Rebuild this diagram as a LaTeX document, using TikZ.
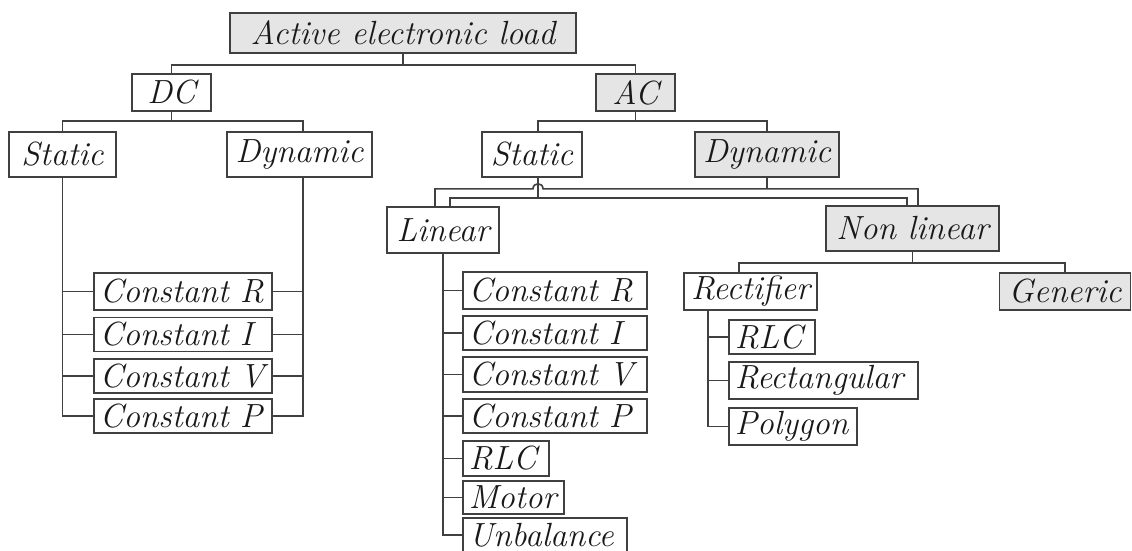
\documentclass[tikz,border=0pt]{standalone}
\usepackage{fontspec}
\begin{document}
\begin{tikzpicture}[x=1pt,y=-1pt,
  line width=1.6pt, draw=black!75,
  every node/.style={font=\fontsize{33.5}{40}\selectfont\itshape, text=black!90},
  cbox/.style={draw=black!75, line width=1.6pt, inner sep=0pt, align=center},
  gfill/.style={fill=black!10},
  leaf/.style={draw=black!75, line width=1.6pt, inner ysep=0pt, inner xsep=6pt, align=left, anchor=west}
]
\useasboundingbox (0,0) rectangle (1132,550);
\clip (0,0) rectangle (1132,550);
% level 0
\node[cbox,gfill,minimum width=346,minimum height=40] (Act) at (403,33) {Active electronic load};
% level 1
\node[cbox,minimum width=79,minimum height=37] (DC) at (171.5,92.5) {DC};
\node[cbox,gfill,minimum width=79,minimum height=37] (AC) at (635.5,92.5) {AC};
% level 2
\node[cbox,minimum width=107,minimum height=45] (S1) at (62.5,154.5) {Static};
\node[cbox,minimum width=145,minimum height=45] (D1) at (299.5,154.5) {Dynamic};
\node[cbox,minimum width=100,minimum height=45] (S2) at (532,154.5) {Static};
\node[cbox,gfill,minimum width=144,minimum height=45] (D2) at (767,154.5) {Dynamic};
% level 3
\node[cbox,minimum width=112,minimum height=46] (Lin) at (443,230) {Linear};
\node[cbox,gfill,minimum width=173,minimum height=45] (NL) at (912.5,228.5) {Non linear};
\node[cbox,minimum width=133,minimum height=37] (Rect) at (750.5,291.5) {Rectifier};
\node[cbox,gfill,minimum width=131,minimum height=37] (Gen) at (1065,291.5) {Generic};
% DC leaves
\node[leaf,text width=166,minimum height=37] (cR1) at (93,291.5) {Constant R};
\node[leaf,text width=166,minimum height=34] (cI1) at (93,334.5) {Constant I};
\node[leaf,text width=166,minimum height=34] (cV1) at (93,376) {Constant V};
\node[leaf,text width=166,minimum height=34] (cP1) at (93,416) {Constant P};
% Linear leaves
\node[leaf,text width=172,minimum height=37] (cR2) at (462,290.5) {Constant R};
\node[leaf,text width=172,minimum height=34] (cI2) at (462,333) {Constant I};
\node[leaf,text width=172,minimum height=35] (cV2) at (462,374.5) {Constant V};
\node[leaf,text width=172,minimum height=34] (cP2) at (462,416) {Constant P};
\node[leaf,text width=74,minimum height=35] (RLC2) at (462,458.5) {RLC};
\node[leaf,text width=89,minimum height=33] (Mot) at (462,497.5) {Motor};
\node[leaf,text width=152,minimum height=34] (Unb) at (462,535) {Unbalance};
% Rectifier leaves
\node[leaf,text width=74,minimum height=34] (RLC3) at (728,337) {RLC};
\node[leaf,text width=177,minimum height=37] (Rect3) at (728,380.5) {Rectangular};
\node[leaf,text width=116,minimum height=37] (Poly) at (728,426.5) {Polygon};

% connectors
\draw (Act.south) -- ++(0,11) coordinate (aj);
\draw (DC.north) |- (aj) -| (AC.north);
\draw (DC.south) -- ++(0,9) coordinate (dcj);
\draw (S1.north) |- (dcj) -| ([xshift=3.5pt]D1.north);
\draw (AC.south) -- ++(0,9) coordinate (acj);
\draw ([xshift=6pt]S2.north) |- (acj) -| (D2.north);
% DC static / dynamic to leaves
\foreach \n in {cR1,cI1,cV1,cP1}{
  \draw (S1.south) |- (\n.west);
  \draw ([xshift=3.5pt]D1.south) |- (\n.east);
}
% AC dynamic (upper line with hop)
\path (D2.south) ++(0,11) coordinate (dj);
\coordinate (s2b) at ([xshift=6pt]S2.south);
\draw (D2.south) -- (dj);
\draw ([xshift=-8pt]Lin.north) |- ([xshift=-5pt]s2b |- dj)
  .. controls +(0,-6.7) and +(0,-6.7) .. ([xshift=5pt]s2b |- dj)
  -| ([xshift=5.5pt]NL.north);
% AC static (lower line)
\draw (s2b) -- ++(0,20) coordinate (sj);
\draw ([xshift=7pt]Lin.north) |- (sj) -| ([xshift=-5.5pt]NL.north);
% Linear leaves
\foreach \n in {cR2,cI2,cV2,cP2,RLC2,Mot,Unb}{
  \draw (Lin.south) |- (\n.west);
}
% Non linear
\draw (NL.south) -- ++(0,11) coordinate (nj);
\draw ([xshift=-11.5pt]Rect.north) |- (nj) -| (Gen.north);
% Rectifier leaves
\foreach \n in {RLC3,Rect3,Poly}{
  \draw ([xshift=-42.5pt]Rect.south) |- (\n.west);
}
\end{tikzpicture}
\end{document}
